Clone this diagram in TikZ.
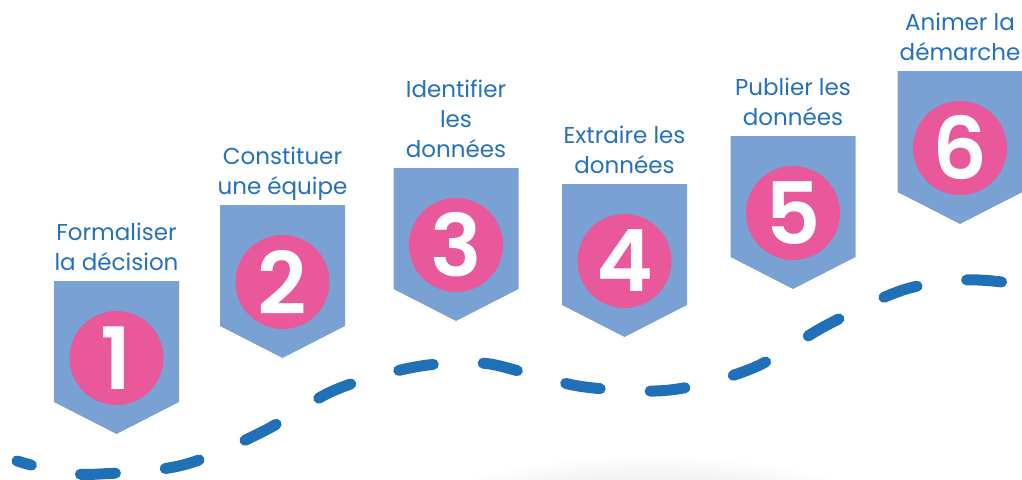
\documentclass[tikz,border=0pt]{standalone}
\usepackage{fontspec}
\setmainfont{Poppins}
\newfontfamily\digitfont{Poppins SemiBold}
\usetikzlibrary{positioning}

\definecolor{trailblue}{RGB}{31,112,183}
\definecolor{textblue}{RGB}{36,113,186}
\definecolor{bannerblue}{RGB}{122,161,212}
\definecolor{discpink}{RGB}{232,88,155}

\tikzset{
    banner/.style={fill=bannerblue},
    disc/.style={circle, fill=discpink, minimum size=94pt, inner sep=0pt,
        text=white, font=\digitfont\fontsize{86}{86}\selectfont},
    steptext/.style={text=textblue, align=center, inner sep=0pt, text depth=0pt,
        anchor=south, font=\fontsize{23}{30}\selectfont},
    trail/.style={trailblue, line width=11pt, line cap=round,
        dash pattern=on 35pt off 50pt, dash phase=20pt}
}

\begin{document}
\begin{tikzpicture}[x=1pt,y=-1pt]
    \useasboundingbox (0,0) rectangle (1022,479);

    % soft shadow at the bottom
    \begin{scope}
        \clip (0,0) rectangle (1022,479);
        \shade[inner color=black!12, outer color=white] (650,505) ellipse (220 and 50);
    \end{scope}

    % the dashed trail
    \draw[trail] plot[smooth, tension=0.55] coordinates {
        (17,461) (60,472) (100,474) (183,465) (262,432) (335,390) (415,367)
        (480,363) (523,372) (585,387) (670,390) (753,368) (827,325) (903,290)
        (965,280) (1010,283)};

    % the six steps
    \foreach \i/\x/\y/\txt in {
        1/116.5/281/{Formaliser\\la décision},
        2/282.5/205/{Constituer\\une équipe},
        3/456/168/{Identifier\\les\\données},
        4/624.5/184/{Extraire les\\données},
        5/793/136/{Publier les\\données},
        6/960/71/{Animer la\\démarche}} {
        \fill[banner] (\x-62.5,\y) -- (\x+62.5,\y) -- (\x+62.5,\y+121)
            -- (\x,\y+153) -- (\x-62.5,\y+121) -- cycle;
        \node[disc] (n\i) at (\x,\y+77) {\i};
        \node[steptext] (l\i) at (\x,\y-10) {\txt};
    }
\end{tikzpicture}
\end{document}
